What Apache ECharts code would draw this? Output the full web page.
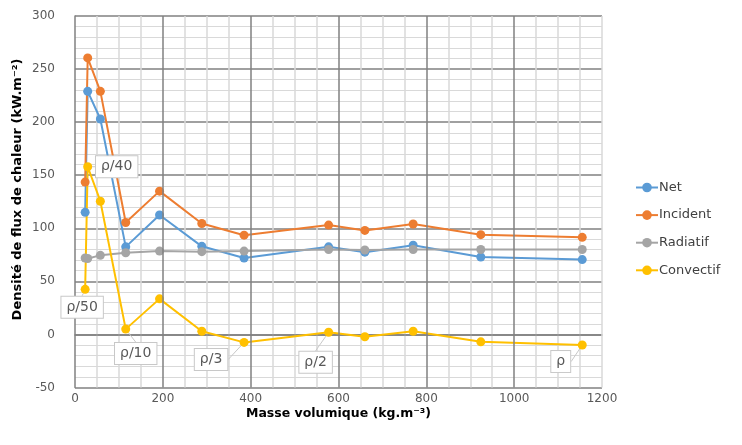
<!DOCTYPE html>
<html>
<head>
<meta charset="utf-8">
<script src="https://cdn.jsdelivr.net/npm/echarts@6/dist/echarts.min.js"></script>
<style>
html,body{margin:0;padding:0;background:#fff;}
#chart{width:742px;height:445px;}
</style>
</head>
<body>
<div id="chart"></div>
<script>
// Masse volumique (kg.m-3)
var densities = [23.1, 28.9, 57.75, 115.5, 192.5, 288.75, 385, 577.5, 660, 770, 924, 1155];
var netValues = [115, 229, 203, 82.5, 112.5, 83, 72, 82.5, 77.5, 84, 73, 70.5];
var incidentValues = [143.5, 260.5, 229, 105.5, 135, 104.5, 93.5, 103, 98, 104, 94, 91.5];
var radiatifValues = [72, 71.5, 74.5, 77, 78.5, 78, 78.5, 80, 79.5, 80, 80, 80];
var convectifValues = [42.5, 158, 125.5, 5, 33.5, 3, -7.5, 2, -2.2, 3, -7, -10];
var calloutTexts = ['ρ/50', 'ρ/40', '', 'ρ/10', '', '', 'ρ/3', 'ρ/2', '', '', '', 'ρ'];
var xTicks = {min: 0, max: 1200, interval: 200};
var yTicks = {min: -50, max: 300, interval: 50};
var xTitle = 'Masse volumique (kg.m⁻³)';
var yTitle = 'Densité de flux de chaleur (kW.m⁻²)';

var FONT = 'DejaVu Sans';
var calloutShift = {0: [-3, 18], 1: [29, 0], 3: [10, 24.5], 6: [-33, 17], 7: [-13, 30], 11: [-21.5, 16.5]};

function pairs(vals) {
  return vals.map(function (v, i) { return [densities[i], v]; });
}

function mkSeries(name, color, vals) {
  return {
    name: name,
    type: 'line',
    data: pairs(vals),
    symbol: 'circle',
    symbolSize: 9,
    lineStyle: {color: color, width: 2},
    itemStyle: {color: color},
    emphasis: {disabled: true},
    animation: false,
    z: 3
  };
}

var DARK = '#808080', LIGHT = '#d9d9d9';

var conv = mkSeries('Convectif', '#FFC000', convectifValues);
conv.data = convectifValues.map(function (v, i) {
  var d = {value: [densities[i], v]};
  if (calloutTexts[i]) {
    d.label = {
      show: true,
      formatter: calloutTexts[i],
      position: 'inside',
      fontFamily: FONT,
      fontSize: 14,
      color: '#595959',
      backgroundColor: '#ffffff',
      borderColor: '#c8c8c8',
      borderWidth: 1,
      padding: [4, 5, 3, 5]
    };
    d.labelLine = {show: true, lineStyle: {color: '#c8c8c8', width: 1}};
  }
  return d;
});
conv.labelLayout = function (p) {
  var s = calloutShift[p.dataIndex];
  if (!s) return {};
  return {dx: s[0], dy: s[1]};
};
conv.labelLine = {show: true, lineStyle: {color: '#c8c8c8', width: 1}};

// major vertical grid lines (from tick settings); the last one (right edge) is light
var vLines = [];
for (var t = xTicks.min + xTicks.interval; t <= xTicks.max; t += xTicks.interval) {
  vLines.push({xAxis: t, lineStyle: {color: t === xTicks.max ? LIGHT : DARK, width: 1.5, type: 'solid'}});
}
var gridSeries = {
  name: '__grid',
  type: 'line',
  data: [],
  z: 1,
  silent: true,
  markLine: {
    silent: true,
    symbol: 'none',
    label: {show: false},
    animation: false,
    data: vLines
  }
};

var chart = echarts.init(document.getElementById('chart'), null, {renderer: 'canvas'});
chart.setOption({
  backgroundColor: '#ffffff',
  animation: false,
  textStyle: {fontFamily: FONT},
  grid: {left: 75, top: 16, width: 527, height: 371.5, containLabel: false},
  graphic: [{
    type: 'text',
    x: 18, y: 189.5,
    rotation: Math.PI / 2,
    style: {
      text: yTitle,
      fontFamily: FONT, fontSize: 13, fontWeight: 'bold', fill: '#000',
      align: 'center', verticalAlign: 'middle'
    }
  }],
  legend: {
    orient: 'vertical',
    left: 630,
    top: 176,
    itemWidth: 22,
    itemHeight: 12,
    itemGap: 14.6,
    textStyle: {fontFamily: FONT, fontSize: 13, color: '#404040', padding: [0, 0, 0, -4]},
    data: ['Net', 'Incident', 'Radiatif', 'Convectif']
  },
  xAxis: {
    type: 'value',
    min: xTicks.min, max: xTicks.max, interval: xTicks.interval,
    name: xTitle,
    nameLocation: 'middle',
    nameGap: 20,
    nameMoveOverlap: false,
    nameTextStyle: {fontFamily: FONT, fontSize: 12.5, fontWeight: 'bold', color: '#000'},
    axisLine: {show: true, lineStyle: {color: DARK, width: 1.5}},
    axisTick: {show: false},
    axisLabel: {fontFamily: FONT, fontSize: 12, color: '#595959', margin: 5,
      formatter: function (v) { return String(v); }},
    splitLine: {show: false},
    minorTick: {show: true, splitNumber: 4, length: 0, lineStyle: {color: 'rgba(0,0,0,0)'}},
    minorSplitLine: {show: true, lineStyle: {color: LIGHT, width: 1.5}}
  },
  yAxis: {
    type: 'value',
    min: yTicks.min, max: yTicks.max, interval: yTicks.interval,
    axisLine: {show: true, lineStyle: {color: DARK, width: 1.5}},
    axisTick: {show: false},
    axisLabel: {fontFamily: FONT, fontSize: 12, color: '#595959', margin: 20},
    splitLine: {show: true, lineStyle: {color: DARK, width: 1.5}},
    minorTick: {show: true, splitNumber: 5, length: 0, lineStyle: {color: 'rgba(0,0,0,0)'}},
    minorSplitLine: {show: true, lineStyle: {color: LIGHT, width: 1}}
  },
  series: [
    gridSeries,
    mkSeries('Net', '#5B9BD5', netValues),
    mkSeries('Incident', '#ED7D31', incidentValues),
    mkSeries('Radiatif', '#A5A5A5', radiatifValues),
    conv
  ]
});
</script>
</body>
</html>
